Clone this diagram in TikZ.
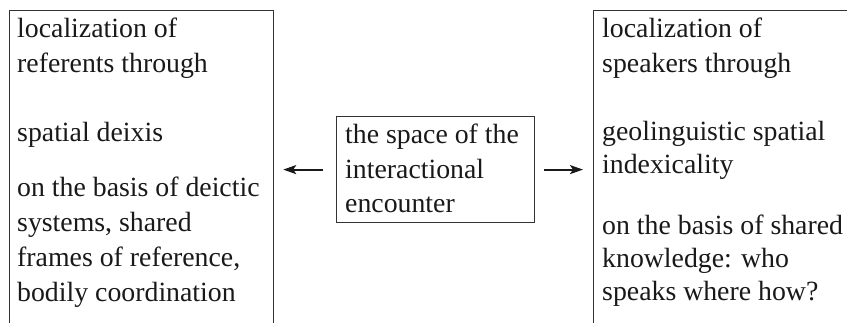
\documentclass[tikz,border=0pt]{standalone}
\usepackage{fontspec}
\setmainfont{Liberation Serif}
\usetikzlibrary{arrows.meta}
\begin{document}
\begin{tikzpicture}[x=1pt,y=1pt,
  box/.style={draw=black!80, line width=1.2pt, inner sep=0pt},
  txt/.style={anchor=base west, inner sep=0pt, font=\fontsize{27.8}{33}\selectfont, text=black!90},
  arr/.style={-{Stealth[length=13pt,width=9pt,inset=3pt]}, line width=2pt, draw=black!90}]
\useasboundingbox (0,0) rectangle (847,-322);
\begin{scope}
  \clip (0,0) rectangle (847,-322);
  \node[box, anchor=north west, minimum width=264pt, minimum height=340pt] (L) at (9,-10) {};
  \node[box, anchor=north west, minimum width=264pt, minimum height=340pt] (R) at (593,-10) {};
\end{scope}
\node[box, anchor=north west, minimum width=198pt, minimum height=106pt] (M) at (336,-116) {};
% left box text
\node[txt] (l1) at (17,-37) {localization of};
\node[txt] (l2) at (17,-72) {referents through};
\node[txt] (l3) at (17,-141) {spatial deixis};
\node[txt] (l4) at (17,-196) {on the basis of deictic};
\node[txt] (l5) at (17,-231) {systems, shared};
\node[txt] (l6) at (17,-266) {frames of reference,};
\node[txt] (l7) at (17,-301) {bodily coordination};
% right box text
\node[txt] (r1) at (602,-37) {localization of};
\node[txt] (r2) at (602,-72) {speakers through};
\node[txt] (r3) at (602,-140) {geolinguistic spatial};
\node[txt] (r4) at (602,-173) {indexicality};
\node[txt] (r5) at (602,-234) {on the basis of shared};
\node[txt] (r6) at (602,-267) {knowledge: who};
\node[txt] (r7) at (602,-300) {speaks where how?};
% middle text
\node[txt] (m1) at (345,-143) {the space of the};
\node[txt] (m2) at (345,-178) {interactional};
\node[txt] (m3) at (345,-212) {encounter};
% arrows
\draw[arr] ([xshift=-13pt]M.west) -- ([xshift=9pt]L.east |- M.west);
\draw[arr] ([xshift=9pt]M.east) -- ([xshift=-10pt]R.west |- M.east);
\end{tikzpicture}
\end{document}
